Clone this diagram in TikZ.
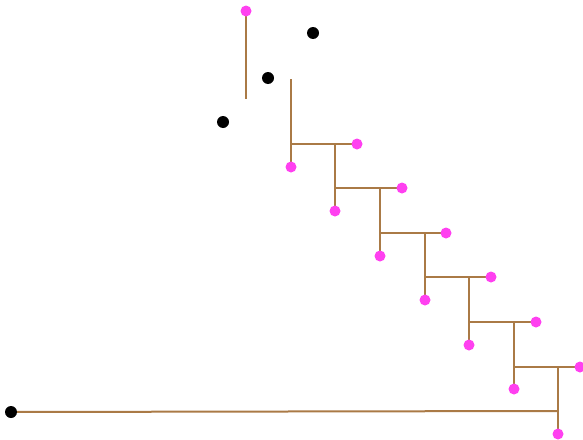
\documentclass[tikz,border=0pt]{standalone}
\usetikzlibrary{backgrounds}
\definecolor{br}{RGB}{170,122,70}
\definecolor{pk}{RGB}{255,64,240}
\tikzset{
  pdot/.style={circle,fill=pk,inner sep=0pt,minimum size=11pt},
  bdot/.style={circle,fill=black,inner sep=0pt,minimum size=12pt},
  wire/.style={draw=br,line width=2pt},
}
\begin{document}
\begin{tikzpicture}[x=1pt,y=-1pt]
\useasboundingbox (0,0) rectangle (583,439);
% dots
\node[pdot] (p0) at (246,11) {};
\node[pdot] (v1) at (291,167) {};
\node[pdot] (v2) at (335,211) {};
\node[pdot] (v3) at (380,256) {};
\node[pdot] (v4) at (425,300) {};
\node[pdot] (v5) at (469,345) {};
\node[pdot] (v6) at (514,389) {};
\node[pdot] (v7) at (558,434) {};
\node[pdot] (h1) at (357,144) {};
\node[pdot] (h2) at (402,188) {};
\node[pdot] (h3) at (446,233) {};
\node[pdot] (h4) at (491,277) {};
\node[pdot] (h5) at (536,322) {};
\node[pdot] (h6) at (580,367) {};
\node[bdot] (b1) at (313,33) {};
\node[bdot] (b2) at (268,78) {};
\node[bdot] (b3) at (223,122) {};
\node[bdot] (b4) at (11,412) {};
\coordinate (t0) at (246,99);
\coordinate (s0) at (291,79);
\coordinate (j7) at (558,411);
\begin{scope}[on background layer]
\path[wire] (p0.center) -- (t0);
\path[wire] (s0) -- (v1.center);
\path[wire] (v1 |- h1) -- (h1.center);
\path[wire] (v2 |- h1) -- (v2.center);
\path[wire] (v2 |- h2) -- (h2.center);
\path[wire] (v3 |- h2) -- (v3.center);
\path[wire] (v3 |- h3) -- (h3.center);
\path[wire] (v4 |- h3) -- (v4.center);
\path[wire] (v4 |- h4) -- (h4.center);
\path[wire] (v5 |- h4) -- (v5.center);
\path[wire] (v5 |- h5) -- (h5.center);
\path[wire] (v6 |- h5) -- (v6.center);
\path[wire] (v6 |- h6) -- (h6.center);
\path[wire] (v7 |- h6) -- (v7.center);
\path[wire] (b4.center) -- (j7);
\end{scope}
\end{tikzpicture}
\end{document}
